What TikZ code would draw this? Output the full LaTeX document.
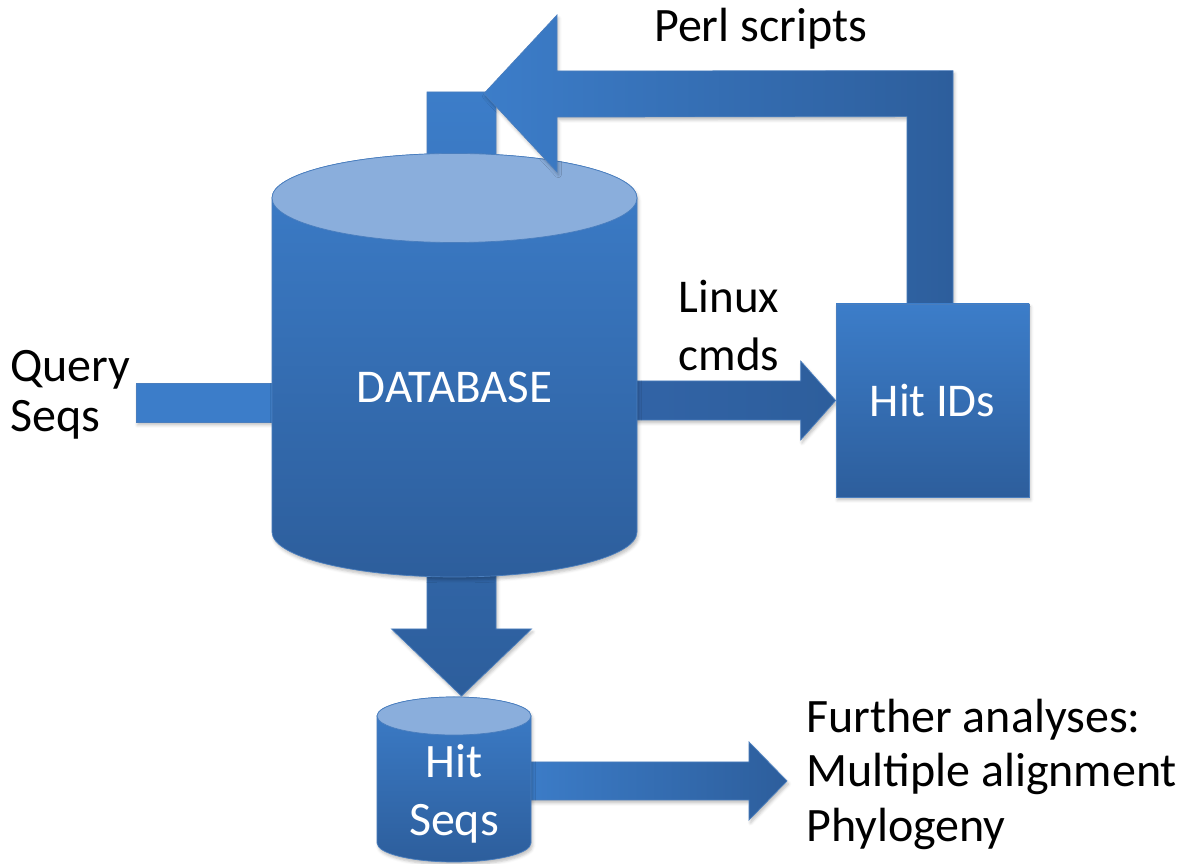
\documentclass[tikz,border=0pt]{standalone}
\usepackage{fontspec}
\setmainfont{Carlito}
\usetikzlibrary{calc,shadows.blur}

\definecolor{blueLight}{HTML}{3C7DC9}
\definecolor{blueMid}{HTML}{3264A7}
\definecolor{blueDark}{HTML}{2D5E9C}
\definecolor{blueCap}{HTML}{8AAEDC}
\definecolor{blueEdge}{HTML}{4A7EBE}

\tikzset{
  solidshape/.style={draw=blueEdge, line width=0.7pt, line join=miter,
    blur shadow={shadow xshift=1.5pt, shadow yshift=-3pt,
                 shadow blur radius=3pt, shadow opacity=25}},
  vshade/.style={top color=blueLight, bottom color=blueDark},
  hshade/.style={left color=blueLight, right color=blueDark},
  captext/.style={inner sep=0pt, text=black, font=\fontsize{48}{56}\selectfont},
  boxtext/.style={inner sep=0pt, text=white, font=\fontsize{47}{56}\selectfont}
}

\begin{document}
\begin{tikzpicture}[x=1pt, y=1pt]
\useasboundingbox (0,0) rectangle (1184,864);

% ---- named end points of the block arrows ----
\coordinate (queryTail) at (136,461.5);
\coordinate (dbIn)      at (300,461.5);
\coordinate (dbTopIn)   at (461.5,772);
\coordinate (dbOut)     at (461.5,168);
\coordinate (seqOut)    at (787,83);

% Hit IDs box
\node[solidshape, vshade, minimum width=193pt, minimum height=193pt,
      inner sep=0pt] (hitids) at (932.5,463.5) {};

% Query arrow, running in behind the database
\path[solidshape, fill=blueLight]
  ($(queryTail)+(0,-19.5)$) rectangle ($(dbIn)+(0,19.5)$);

% Down arrow: database -> hit sequences (its tail shows above the database)
\path[solidshape, top color=blueLight, bottom color=blueDark]
  ($(dbTopIn)+(-34.5,0)$) -- ($(dbTopIn)+(34.5,0)$) -- ($(dbOut)+(34.5,67)$)
  -- ($(dbOut)+(70,67)$) -- (dbOut) -- ($(dbOut)+(-70,67)$)
  -- ($(dbOut)+(-34.5,67)$) -- cycle;

% Linux cmds arrow: database -> Hit IDs
\path[solidshape, left color=blueMid, right color=blueDark]
  ($(hitids.west)+(-216,-19.5)$) -- ($(hitids.west)+(-35,-19.5)$)
  -- ($(hitids.west)+(-35,-39.5)$) -- (hitids.west)
  -- ($(hitids.west)+(-35,39.5)$) -- ($(hitids.west)+(-35,19.5)$)
  -- ($(hitids.west)+(-216,19.5)$) -- cycle;

% Database cylinder
\path[solidshape, vshade]
  (272,666) -- (272,332)
  arc[start angle=180, end angle=360, x radius=182.5, y radius=45]
  -- (637,666)
  arc[start angle=0, end angle=180, x radius=182.5, y radius=44.5] -- cycle;
\path[draw=blueEdge, line width=0.7pt, fill=blueCap]
  (454.5,666) ellipse[x radius=182.5, y radius=44.5];
\node[boxtext, anchor=base] (dbtext) at (454.5,461) {DATABASE};

% Perl scripts arrow: Hit IDs -> back into the database
\coordinate (perlTip) at (484,770.5);
\path[solidshape, hshade]
  ($(hitids.north)+(20.5,0)$) -- ($(hitids.north)+(20.5,233)$)
  -- ($(perlTip)+(73,22.5)$) -- ($(perlTip)+(73,78.5)$) -- (perlTip)
  -- ($(perlTip)+(73,-78.5)$) -- ($(perlTip)+(73,-23.5)$)
  -- ($(hitids.north)+(-25.5,187)$) -- ($(hitids.north)+(-25.5,0)$) -- cycle;

% Hit IDs box drawn again on top of the arrow's foot
\node[draw=blueEdge, line width=0.7pt, vshade, minimum width=193pt,
      minimum height=193pt, inner sep=0pt] (hitidsTop) at (hitids) {};
\node[boxtext, anchor=base] (hitidstext) at (932.5,447) {Hit IDs};

% Arrow from hit sequences to further analyses
\path[solidshape, hshade]
  (520,64) -- ($(seqOut)+(-38,-19)$) -- ($(seqOut)+(-38,-39)$) -- (seqOut)
  -- ($(seqOut)+(-38,39)$) -- ($(seqOut)+(-38,19)$) -- (520,102) -- cycle;

% Hit Seqs cylinder
\path[solidshape, vshade]
  (377,148) -- (377,21)
  arc[start angle=180, end angle=360, x radius=77, y radius=19]
  -- (531,148)
  arc[start angle=0, end angle=180, x radius=77, y radius=19] -- cycle;
\path[draw=blueEdge, line width=0.7pt, fill=blueCap]
  (454,148) ellipse[x radius=77, y radius=19];
\node[boxtext, font=\fontsize{48}{56}\selectfont, anchor=base] (hitA) at (454,86) {Hit};
\node[boxtext, font=\fontsize{48}{56}\selectfont, anchor=base] (hitB) at (454,28) {Seqs};

% Captions
\node[captext, anchor=base west] (q1) at (10,482) {Query};
\node[captext, anchor=base west] (q2) at (10,432) {Seqs};
\node[captext, font=\fontsize{47}{56}\selectfont, anchor=base] (l1) at (729,551) {Linux};
\node[captext, font=\fontsize{47}{56}\selectfont, anchor=base] (l2) at (729,493) {cmds};
\node[captext, anchor=base west] (perl) at (654,822) {Perl scripts};
\node[captext, anchor=base west] (f1) at (806,131) {Further analyses:};
\node[captext, anchor=base west] (f2) at (806,77) {Multiple alignment};
\node[captext, anchor=base west] (f3) at (806,22) {Phylogeny};
\end{tikzpicture}
\end{document}
